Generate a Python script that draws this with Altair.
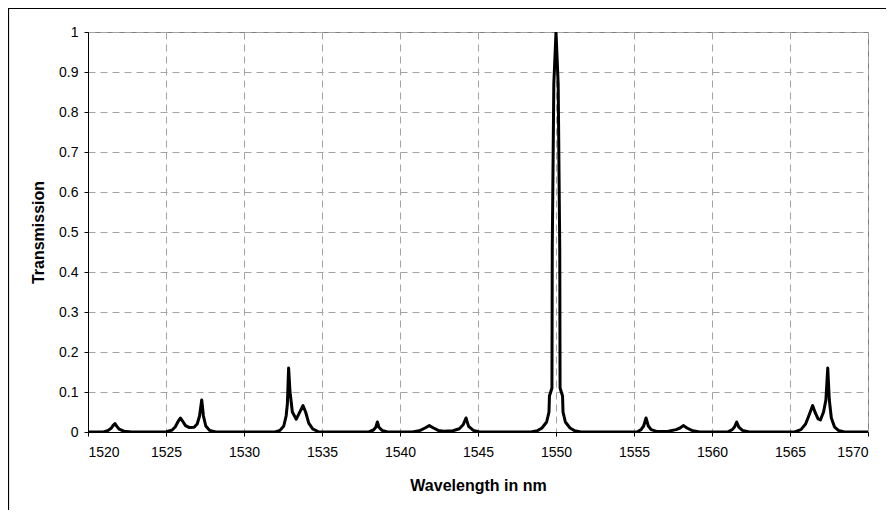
import altair as alt
import pandas as pd

wavelength = [
    1520.0, 1521.0, 1521.3, 1521.5, 1521.6, 1521.73, 1521.85, 1522.0, 1522.3, 1522.8,
    1525.0, 1525.4, 1525.6, 1525.8, 1525.92, 1526.05, 1526.25, 1526.5, 1526.8, 1527.0,
    1527.15, 1527.29, 1527.4, 1527.55, 1527.8, 1528.2,
    1532.0, 1532.3, 1532.55, 1532.7, 1532.78, 1532.86, 1532.95, 1533.1, 1533.35, 1533.55,
    1533.78, 1533.95, 1534.15, 1534.4, 1534.8,
    1538.0, 1538.3, 1538.45, 1538.55, 1538.65, 1538.85, 1539.2,
    1540.8, 1541.3, 1541.6, 1541.88, 1542.15, 1542.45, 1542.8,
    1543.4, 1543.8, 1544.05, 1544.23, 1544.4, 1544.7, 1545.1,
    1548.4, 1548.8, 1549.1, 1549.4, 1549.55, 1549.58, 1549.74, 1549.76, 1549.86, 1550.0,
    1550.14, 1550.24, 1550.26, 1550.42, 1550.45, 1550.6, 1550.9, 1551.2, 1551.6,
    1555.2, 1555.45, 1555.62, 1555.77, 1555.92, 1556.1, 1556.5,
    1557.2, 1557.7, 1557.95, 1558.16, 1558.4, 1558.7, 1559.2,
    1561.0, 1561.3, 1561.45, 1561.58, 1561.72, 1561.95, 1562.4,
    1565.3, 1565.7, 1566.0, 1566.25, 1566.45, 1566.6, 1566.8, 1566.95, 1567.15, 1567.3,
    1567.42, 1567.52, 1567.65, 1567.85, 1568.1, 1568.5, 1570.0,
]
transmission = [
    0.0, 0.0, 0.004, 0.01, 0.016, 0.021, 0.014, 0.007, 0.002, 0.0,
    0.0, 0.005, 0.013, 0.028, 0.035, 0.028, 0.016, 0.011, 0.012, 0.02,
    0.04, 0.08, 0.04, 0.015, 0.004, 0.0,
    0.0, 0.004, 0.015, 0.04, 0.07, 0.16, 0.1, 0.05, 0.032, 0.048,
    0.066, 0.05, 0.022, 0.008, 0.0,
    0.0, 0.005, 0.012, 0.025, 0.012, 0.004, 0.0,
    0.0, 0.004, 0.01, 0.016, 0.01, 0.004, 0.002,
    0.003, 0.008, 0.018, 0.035, 0.014, 0.004, 0.0,
    0.0, 0.003, 0.01, 0.025, 0.05, 0.09, 0.11, 0.46, 0.87, 1.0,
    0.87, 0.46, 0.11, 0.09, 0.05, 0.025, 0.01, 0.003, 0.0,
    0.0, 0.006, 0.015, 0.035, 0.015, 0.006, 0.001,
    0.002, 0.006, 0.01, 0.016, 0.01, 0.004, 0.0,
    0.0, 0.006, 0.013, 0.025, 0.012, 0.004, 0.0,
    0.0, 0.006, 0.02, 0.045, 0.066, 0.05, 0.033, 0.03, 0.05, 0.08,
    0.16, 0.08, 0.035, 0.013, 0.004, 0.0, 0.0,
]
x_ticks = [1520, 1525, 1530, 1535, 1540, 1545, 1550, 1555, 1560, 1565, 1570]
y_ticks = [0, 0.1, 0.2, 0.3, 0.4, 0.5, 0.6, 0.7, 0.8, 0.9, 1]

df = pd.DataFrame({"wl": wavelength, "t": transmission, "order": list(range(len(wavelength)))})

FONT = "Liberation Sans"

line = alt.Chart(df).mark_line(color="black", strokeWidth=3, strokeJoin="round", clip=True).encode(
    x=alt.X("wl:Q",
            scale=alt.Scale(domain=[1520, 1570], nice=False, zero=False),
            axis=alt.Axis(values=x_ticks, format="d", title="Wavelength in nm",
                          titleY=45, titleX=390)),
    y=alt.Y("t:Q",
            scale=alt.Scale(domain=[0, 1], nice=False),
            axis=alt.Axis(values=y_ticks, format="~g", title="Transmission",
                          titleX=-42, titleY=200)),
    order="order:Q",
)

frame = alt.Chart(pd.DataFrame({"a": [0]})).mark_rect(
    fill=None, stroke="black", strokeWidth=1.2, clip=False
).encode(
    x=alt.value(-79.5), x2=alt.value(799), y=alt.value(-23.5), y2=alt.value(498)
)

chart = alt.layer(frame, line).properties(
    width=780, height=400,
    autosize=alt.AutoSizeParams(type="none"),
    padding={"left": 80, "top": 24, "right": 18, "bottom": 78},
    background="white",
).configure_view(
    stroke="#808080", strokeWidth=1
).configure_axis(
    labelFont=FONT, labelFontSize=14, labelColor="black",
    titleFont=FONT, titleFontSize=16, titleFontWeight="bold", titleColor="black",
    domainColor="black", domainWidth=1,
    tickColor="black", tickSize=4, tickWidth=1,
    grid=True, gridColor="#a3a3a3", gridDash=[7, 5], gridWidth=1,
).configure_axisX(
    labelPadding=9,
).configure_axisY(
    labelPadding=6,
)

chart.save("out.html", embed_options={"renderer": "svg", "actions": False})
